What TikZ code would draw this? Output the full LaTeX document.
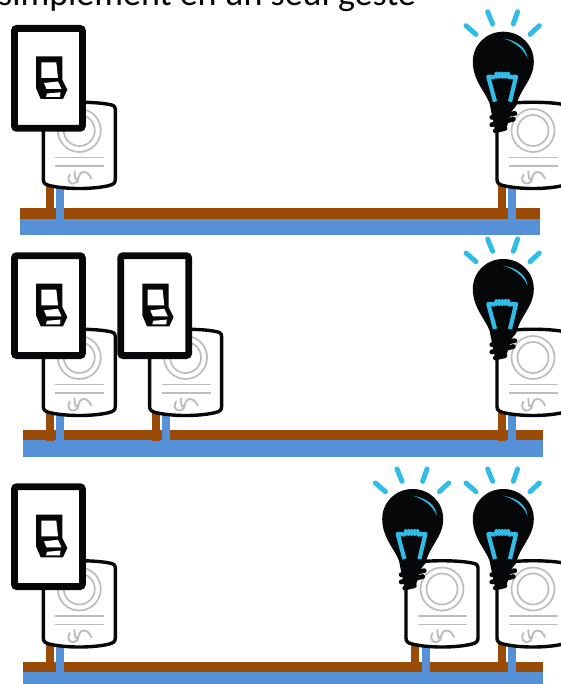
\documentclass[tikz,border=0pt]{standalone}
\usepackage{fontspec}
\setmainfont{Carlito}
\definecolor{cWire}{HTML}{9A4B08}
\definecolor{cBus}{HTML}{5690D6}
\definecolor{cRing}{HTML}{BDBDBD}
\definecolor{cGlow}{HTML}{2FBDE8}
\definecolor{cInk}{HTML}{050708}
\tikzset{
  pics/modulebox/.style={code={
    \draw[cInk,fill=white,line width=3.4pt]
      (0,8) .. controls (0,4.5) and (2.5,3.5) .. (6,3)
      .. controls (20,0) and (52,0) .. (66,3)
      .. controls (69.5,3.5) and (72,4.5) .. (72,8)
      -- (72,78) .. controls (72,81.5) and (70,83) .. (66,84)
      .. controls (50,88) and (22,88) .. (6,84)
      .. controls (2,83) and (0,81.5) .. (0,78) -- cycle;
    \draw[cRing,line width=1.7pt] (36,29) circle (21.5pt) (36,29) circle (15.5pt);
    \draw[cRing,line width=1.9pt] (12,56) -- (61,56) (12,64.5) -- (61,64.5);
    \draw[cRing,line width=1.9pt,line cap=round]
      (26.5,73) .. controls (23,79) and (27,83) .. (31,82) .. controls (34,81) and (35.5,79) .. (35,77);
    \draw[cRing,line width=1.9pt,line cap=round]
      (31.3,70) .. controls (31.5,75) and (32,79) .. (34,78) .. controls (36,76) and (36,70.5) .. (40,70.5)
      .. controls (44,70.5) and (46,73) .. (48,77);
  }},
  pics/switchplate/.style={code={
    \draw[cInk,fill=white,line width=6.8pt,rounded corners=2.5pt] (3.4,3.4) rectangle (71.4,103.3);
    \fill[cInk] (25,31.3) -- (51.3,31.3) -- (51.3,54.7) -- (56.3,64.7) -- (52,74) -- (29.7,74) -- (25,63) -- cycle;
    \fill[white] (30.3,37.3) -- (45.3,37.3) -- (47,53) -- (30.3,53) -- cycle;
    \fill[white] (33,58) -- (47,56.5) -- (50.5,64) -- (35.5,64) -- cycle;
    \fill[white] (35,72) -- (36,68.5) -- (49.5,67.3) -- (49,72) -- cycle;
  }},
  pics/bulb/.style={code={
    \fill[cInk] (-12.5,78) .. controls (-13,64) and (-30.5,52) .. (-30.5,30)
      .. controls (-30.5,13) and (-17,0) .. (0,0)
      .. controls (17,0) and (30.5,13) .. (30.5,30)
      .. controls (30.5,48) and (16,58) .. (13,74)
      -- (8,80) -- (3,97) -- (-8,100) -- cycle;
    \draw[cInk,line width=4.8pt,line cap=round] (-11.5,85.7) -- (11.5,81.7) (-11.5,93) -- (10,87.5) (-8,99) -- (1.7,96.7);
    \draw[cGlow,line width=4.2pt,line join=round] (-8.3,70) -- (-15,45) -- (-8,45.5) (5,45.5) -- (12.7,45) -- (6.7,70);
    \foreach \coilx in {-7,-4,-1,2,5}
      \fill[cGlow] (\coilx,43.5) ellipse (2.2pt and 3.6pt);
    \fill[cGlow] (0,6.7) .. controls (14,9) and (23,16) .. (24.3,26.7) .. controls (20,17) and (12,10.5) .. cycle;
    \draw[cGlow,line width=5pt,line cap=round]
      (-37.3,-6) -- (-27.3,2.7) (-15.7,-20) -- (-10.7,-7.7) (14.3,-20) -- (10,-7.7) (36,-6) -- (26.7,2.7);
  }},
  brownwire/.style={fill=cWire},
  bluewire/.style={fill=cBus}
}
\begin{document}
\begin{tikzpicture}[x=1pt,y=-1pt,line cap=butt,line join=miter]
  \useasboundingbox (0,0) rectangle (561,684);
  \clip (0,0) rectangle (561,684);

  \node[anchor=base west,inner sep=0pt,text=cInk] (title) at (-2,5.5)
    {\fontsize{36}{36}\selectfont simplement en un seul geste};

  % busbars
  \foreach \busx/\busy/\busz/\busend in {20/208/219/235, 23/430/440/457, 23/662/672/686} {
    \fill[brownwire] (\busx,\busy) rectangle (\busx+520,\busz);
    \fill[bluewire] (\busx,\busz) rectangle (\busx+520,\busend);
  }

  % drops to the bus
  \foreach \dropx/\droptop/\dropend in {46/180/219, 498/180/219, 46/410/441, 152/410/441, 498/410/441, 46/640/672, 411/640/672, 498/640/672} {
    \fill[brownwire] (\dropx,\droptop) rectangle (\dropx+8,\dropend);
  }
  \foreach \dropx/\droptop/\dropend in {56/180/226, 508/180/226, 56/410/446, 162/410/446, 508/410/446, 56/640/678, 421.5/640/678, 508/640/678} {
    \fill[bluewire] (\dropx,\droptop) rectangle (\dropx+8,\dropend);
  }

  % modules
  \foreach \modx/\mody in {43.3/101.5, 497/101.5, 43.3/328.5, 149.6/328.5, 497/328.5, 43.3/560, 406/560, 497/560}
    \pic at (\modx,\mody) {modulebox};

  % switches
  \foreach \swx/\swy in {11/25, 11/252.3, 117.3/252.3, 11/483.3}
    \pic at (\swx,\swy) {switchplate};

  % bulbs
  \foreach \bulbx/\bulby in {503.3/31.7, 503.3/259, 412.7/489, 503.3/489}
    \pic at (\bulbx,\bulby) {bulb};
\end{tikzpicture}
\end{document}
